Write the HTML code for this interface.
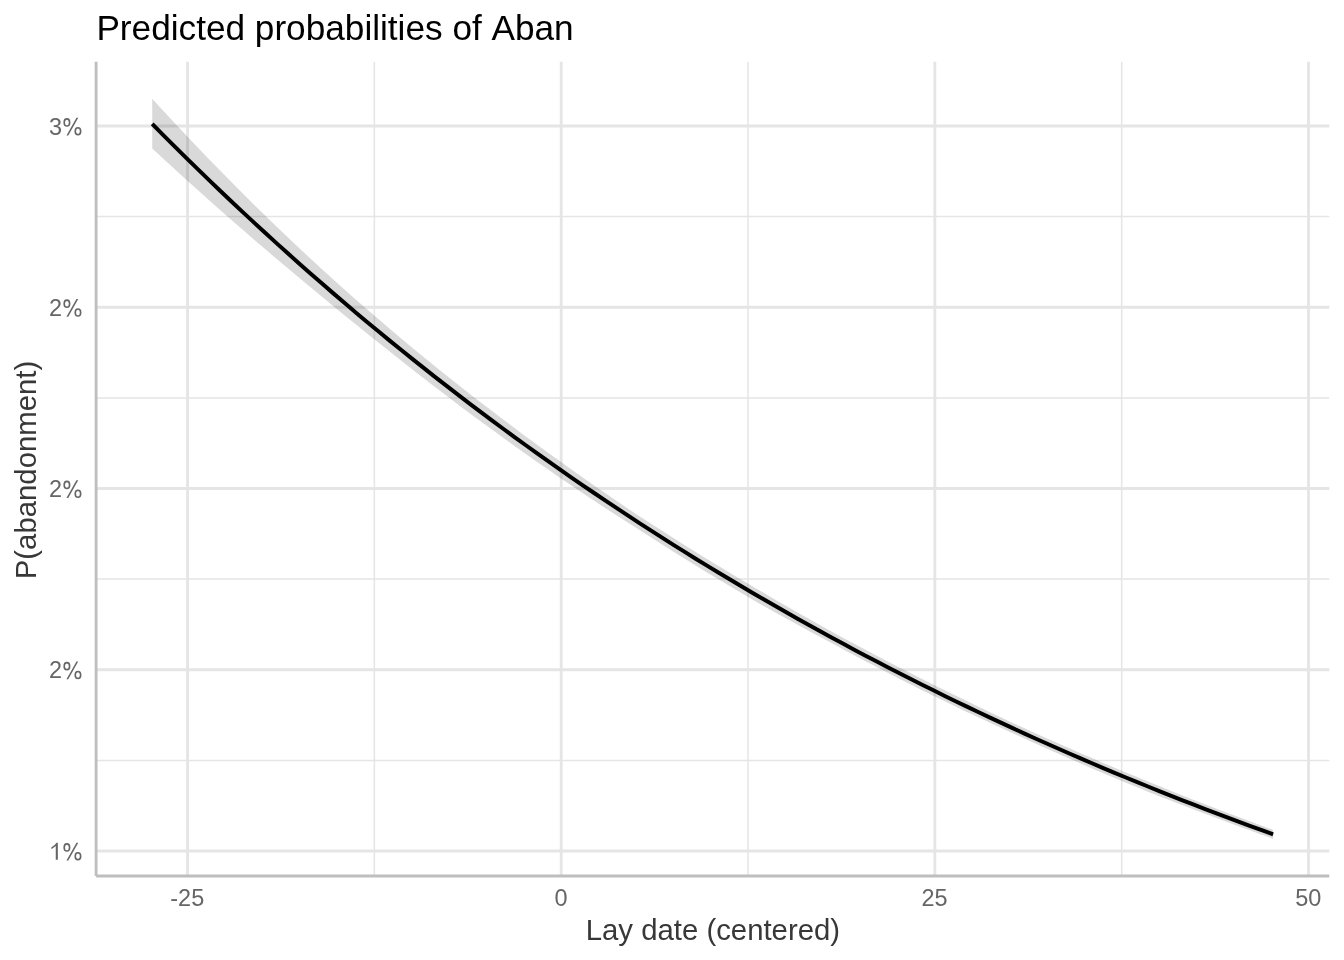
<!DOCTYPE html>
<html><head><meta charset="utf-8"><title>Predicted probabilities of Aban</title>
<style>
html,body{margin:0;padding:0;background:#fff;}
body{width:1344px;height:960px;overflow:hidden;}
svg{display:block;will-change:transform;}
text{font-family:"Liberation Sans",sans-serif;font-kerning:none;font-variant-ligatures:none;}
</style></head><body>
<svg width="1344" height="960" viewBox="0 0 1344 960">
<rect x="0" y="0" width="1344" height="960" fill="#FFFFFF"/>
<g stroke="#E5E5E5" stroke-width="1.5" fill="none">
<line x1="96.1" x2="1329.3" y1="216.62" y2="216.62"/>
<line x1="96.1" x2="1329.3" y1="397.88" y2="397.88"/>
<line x1="96.1" x2="1329.3" y1="579.12" y2="579.12"/>
<line x1="96.1" x2="1329.3" y1="760.38" y2="760.38"/>
<line x1="374.38" x2="374.38" y1="61.8" y2="876.0"/>
<line x1="748.03" x2="748.03" y1="61.8" y2="876.0"/>
<line x1="1121.68" x2="1121.68" y1="61.8" y2="876.0"/>
</g>
<g stroke="#E5E5E5" stroke-width="2.84" fill="none">
<line x1="96.1" x2="1329.3" y1="126.00" y2="126.00"/>
<line x1="96.1" x2="1329.3" y1="307.25" y2="307.25"/>
<line x1="96.1" x2="1329.3" y1="488.50" y2="488.50"/>
<line x1="96.1" x2="1329.3" y1="669.75" y2="669.75"/>
<line x1="96.1" x2="1329.3" y1="851.00" y2="851.00"/>
<line x1="187.55" x2="187.55" y1="61.8" y2="876.0"/>
<line x1="561.20" x2="561.20" y1="61.8" y2="876.0"/>
<line x1="934.85" x2="934.85" y1="61.8" y2="876.0"/>
<line x1="1308.50" x2="1308.50" y1="61.8" y2="876.0"/>
</g>
<path d="M152.20,98.73 L163.52,111.03 L174.84,123.19 L186.17,135.23 L197.49,147.13 L208.81,158.89 L220.13,170.53 L231.46,182.03 L242.78,193.40 L254.10,204.63 L265.42,215.74 L276.74,226.70 L288.07,237.54 L299.39,248.24 L310.71,258.81 L322.03,269.24 L333.36,279.54 L344.68,289.70 L356.00,299.73 L367.32,309.62 L378.64,319.37 L389.97,329.01 L401.29,338.53 L412.61,347.94 L423.93,357.24 L435.26,366.43 L446.58,375.52 L457.90,384.50 L469.22,393.39 L480.54,402.17 L491.87,410.86 L503.19,419.46 L514.51,427.96 L525.83,436.38 L537.16,444.70 L548.48,452.95 L559.80,461.11 L571.12,469.20 L582.44,477.21 L593.77,485.15 L605.09,493.00 L616.41,500.75 L627.73,508.39 L639.06,515.91 L650.38,523.31 L661.70,530.60 L673.02,537.81 L684.34,544.93 L695.67,551.97 L706.99,558.94 L718.31,565.84 L729.63,572.67 L740.96,579.43 L752.28,586.14 L763.60,592.80 L774.92,599.41 L786.24,605.96 L797.57,612.44 L808.89,618.86 L820.21,625.21 L831.53,631.47 L842.86,637.65 L854.18,643.75 L865.50,649.78 L876.82,655.74 L888.14,661.64 L899.47,667.47 L910.79,673.25 L922.11,678.97 L933.43,684.64 L944.76,690.26 L956.08,695.83 L967.40,701.36 L978.72,706.83 L990.04,712.25 L1001.37,717.60 L1012.69,722.89 L1024.01,728.10 L1035.33,733.25 L1046.66,738.33 L1057.98,743.35 L1069.30,748.32 L1080.62,753.24 L1091.94,758.11 L1103.27,762.92 L1114.59,767.69 L1125.91,772.42 L1137.23,777.11 L1148.56,781.76 L1159.88,786.37 L1171.20,790.94 L1182.52,795.46 L1193.84,799.93 L1205.17,804.35 L1216.49,808.73 L1227.81,813.06 L1239.13,817.34 L1250.46,821.58 L1261.78,825.78 L1273.10,829.93 L1273.10,838.73 L1261.78,834.70 L1250.46,830.62 L1239.13,826.50 L1227.81,822.33 L1216.49,818.11 L1205.17,813.85 L1193.84,809.55 L1182.52,805.20 L1171.20,800.82 L1159.88,796.38 L1148.56,791.89 L1137.23,787.34 L1125.91,782.71 L1114.59,778.00 L1103.27,773.23 L1091.94,768.39 L1080.62,763.50 L1069.30,758.56 L1057.98,753.56 L1046.66,748.52 L1035.33,743.44 L1024.01,738.32 L1012.69,733.17 L1001.37,727.98 L990.04,722.75 L978.72,717.47 L967.40,712.14 L956.08,706.74 L944.76,701.28 L933.43,695.75 L922.11,690.14 L910.79,684.48 L899.47,678.74 L888.14,672.95 L876.82,667.09 L865.50,661.18 L854.18,655.21 L842.86,649.18 L831.53,643.11 L820.21,637.03 L808.89,630.92 L797.57,624.78 L786.24,618.57 L774.92,612.28 L763.60,605.90 L752.28,599.40 L740.96,592.79 L729.63,586.09 L718.31,579.31 L706.99,572.45 L695.67,565.52 L684.34,558.52 L673.02,551.45 L661.70,544.31 L650.38,537.11 L639.06,529.86 L627.73,522.58 L616.41,515.26 L605.09,507.89 L593.77,500.46 L582.44,492.94 L571.12,485.35 L559.80,477.66 L548.48,469.87 L537.16,461.99 L525.83,454.02 L514.51,445.97 L503.19,437.83 L491.87,429.60 L480.54,421.29 L469.22,412.89 L457.90,404.41 L446.58,395.85 L435.26,387.22 L423.93,378.50 L412.61,369.70 L401.29,360.82 L389.97,351.87 L378.64,342.85 L367.32,333.75 L356.00,324.60 L344.68,315.41 L333.36,306.15 L322.03,296.84 L310.71,287.47 L299.39,278.04 L288.07,268.54 L276.74,258.98 L265.42,249.34 L254.10,239.63 L242.78,229.84 L231.46,219.98 L220.13,210.03 L208.81,199.99 L197.49,189.87 L186.17,179.65 L174.84,169.34 L163.52,158.94 L152.20,148.43 Z" fill="#000000" fill-opacity="0.15" stroke="none"/>
<path d="M152.20,123.93 L163.52,135.36 L174.84,146.66 L186.17,157.86 L197.49,168.93 L208.81,179.90 L220.13,190.75 L231.46,201.50 L242.78,212.13 L254.10,222.65 L265.42,233.07 L276.74,243.38 L288.07,253.59 L299.39,263.69 L310.71,273.68 L322.03,283.58 L333.36,293.37 L344.68,303.06 L356.00,312.66 L367.32,322.15 L378.64,331.55 L389.97,340.85 L401.29,350.05 L412.61,359.16 L423.93,368.18 L435.26,377.10 L446.58,385.94 L457.90,394.68 L469.22,403.33 L480.54,411.89 L491.87,420.36 L503.19,428.74 L514.51,437.04 L525.83,445.25 L537.16,453.38 L548.48,461.42 L559.80,469.38 L571.12,477.26 L582.44,485.06 L593.77,492.77 L605.09,500.41 L616.41,507.96 L627.73,515.44 L639.06,522.84 L650.38,530.16 L661.70,537.41 L673.02,544.58 L684.34,551.67 L695.67,558.69 L706.99,565.64 L718.31,572.52 L729.63,579.33 L740.96,586.06 L752.28,592.72 L763.60,599.32 L774.92,605.84 L786.24,612.30 L797.57,618.69 L808.89,625.01 L820.21,631.27 L831.53,637.46 L842.86,643.59 L854.18,649.65 L865.50,655.65 L876.82,661.58 L888.14,667.46 L899.47,673.27 L910.79,679.02 L922.11,684.71 L933.43,690.34 L944.76,695.92 L956.08,701.43 L967.40,706.89 L978.72,712.28 L990.04,717.63 L1001.37,722.91 L1012.69,728.14 L1024.01,733.32 L1035.33,738.44 L1046.66,743.50 L1057.98,748.52 L1069.30,753.48 L1080.62,758.39 L1091.94,763.24 L1103.27,768.05 L1114.59,772.80 L1125.91,777.51 L1137.23,782.16 L1148.56,786.77 L1159.88,791.33 L1171.20,795.84 L1182.52,800.30 L1193.84,804.71 L1205.17,809.08 L1216.49,813.40 L1227.81,817.68 L1239.13,821.91 L1250.46,826.09 L1261.78,830.24 L1273.10,834.33" fill="none" stroke="#000000" stroke-width="3.98" stroke-linejoin="round" stroke-linecap="butt"/>
<g stroke="#BEBEBE" stroke-width="2.84" fill="none">
<line x1="96.1" x2="1329.3" y1="876.0" y2="876.0"/>
<line x1="96.1" x2="96.1" y1="61.8" y2="876.0"/>
</g>
<g fill="#666666" font-size="23.47px">
<text transform="translate(62.14,134.70) scale(1,1.04)" text-anchor="end">3</text>
<g fill="none" stroke="#666666" stroke-width="1.6"><ellipse cx="66.90" cy="122.40" rx="2.72" ry="3.55"/><ellipse cx="77.95" cy="131.25" rx="2.72" ry="3.55"/></g><path d="M76.45,117.70 L78.25,117.70 L68.25,135.55 L66.45,135.55 Z" fill="#666666"/>
<text transform="translate(62.14,315.95) scale(1,1.04)" text-anchor="end">2</text>
<g fill="none" stroke="#666666" stroke-width="1.6"><ellipse cx="66.90" cy="303.65" rx="2.72" ry="3.55"/><ellipse cx="77.95" cy="312.50" rx="2.72" ry="3.55"/></g><path d="M76.45,298.95 L78.25,298.95 L68.25,316.80 L66.45,316.80 Z" fill="#666666"/>
<text transform="translate(62.14,497.20) scale(1,1.04)" text-anchor="end">2</text>
<g fill="none" stroke="#666666" stroke-width="1.6"><ellipse cx="66.90" cy="484.90" rx="2.72" ry="3.55"/><ellipse cx="77.95" cy="493.75" rx="2.72" ry="3.55"/></g><path d="M76.45,480.20 L78.25,480.20 L68.25,498.05 L66.45,498.05 Z" fill="#666666"/>
<text transform="translate(62.14,678.45) scale(1,1.04)" text-anchor="end">2</text>
<g fill="none" stroke="#666666" stroke-width="1.6"><ellipse cx="66.90" cy="666.15" rx="2.72" ry="3.55"/><ellipse cx="77.95" cy="675.00" rx="2.72" ry="3.55"/></g><path d="M76.45,661.45 L78.25,661.45 L68.25,679.30 L66.45,679.30 Z" fill="#666666"/>
<g fill="none" stroke="#666666" stroke-width="1.6"><ellipse cx="66.90" cy="847.40" rx="2.72" ry="3.55"/><ellipse cx="77.95" cy="856.25" rx="2.72" ry="3.55"/></g><path d="M76.45,842.70 L78.25,842.70 L68.25,860.55 L66.45,860.55 Z" fill="#666666"/>
<path transform="translate(49.09,859.70) scale(0.02347,-0.02347)" d="M373,0 H284 V582 L98,448 V534 C190,576 268,642 312,722 H373 Z"/>
<text transform="translate(187.25,905.8) scale(1,1.04)" text-anchor="middle">-25</text>
<text transform="translate(560.90,905.8) scale(1,1.04)" text-anchor="middle">0</text>
<text transform="translate(934.55,905.8) scale(1,1.04)" text-anchor="middle">25</text>
<text transform="translate(1308.20,905.8) scale(1,1.04)" text-anchor="middle">50</text>
</g>
<text transform="translate(712.9,939.8) scale(1,1.0)" text-anchor="middle" font-size="29.33px" fill="#383838">Lay date (centered)</text>
<text transform="translate(35.5,470) rotate(-90) scale(1,1.0)" text-anchor="middle" font-size="29.33px" fill="#383838">P(abandonment)</text>
<text transform="translate(96.4,40.2) scale(1,1.0)" font-size="35.2px" fill="#000000">Predicted probabilities of Aban</text>
</svg></body></html>
